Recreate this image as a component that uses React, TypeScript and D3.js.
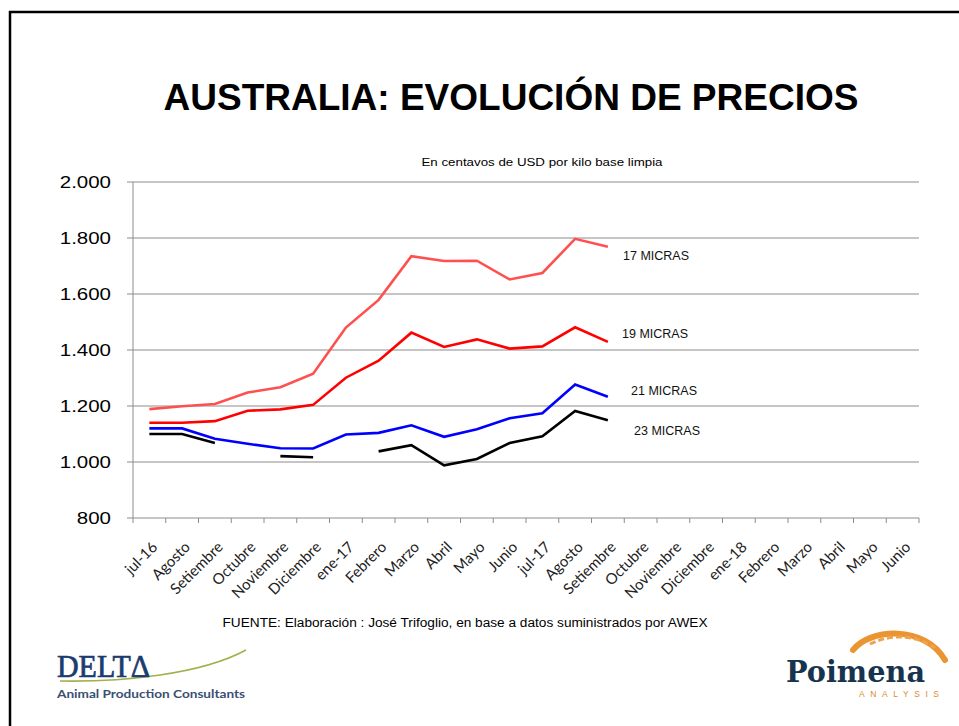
import React from "react";
import * as d3 from "d3";

// month labels, jul-16 .. Junio (2018)
const months = [
  "jul-16", "Agosto", "Setiembre", "Octubre", "Noviembre", "Diciembre",
  "ene-17", "Febrero", "Marzo", "Abril", "Mayo", "Junio",
  "jul-17", "Agosto", "Setiembre", "Octubre", "Noviembre", "Diciembre",
  "ene-18", "Febrero", "Marzo", "Abril", "Mayo", "Junio",
];

// prices, US cents / kg clean
const micras17 = [1189, 1199, 1207, 1248, 1267, 1315, 1480, 1579, 1735, 1718, 1719, 1652, 1675, 1797, 1769];
const micras19 = [1140, 1140, 1146, 1183, 1188, 1204, 1301, 1362, 1462, 1411, 1438, 1405, 1413, 1481, 1429];
const micras21 = [1120, 1120, 1083, 1065, 1049, 1048, 1098, 1104, 1131, 1090, 1117, 1156, 1174, 1277, 1233];
const micras23 = [1100, 1100, 1068, null, 1021, 1017, null, 1038, 1060, 988, 1011, 1068, 1092, 1182, 1149];

const yTicks = [800, 1000, 1200, 1400, 1600, 1800, 2000];

const seriesList = [
  { name: "17 MICRAS", values: micras17, color: "#ff5050", lx: 623, ly: 260 },
  { name: "19 MICRAS", values: micras19, color: "#ff0000", lx: 622, ly: 338 },
  { name: "21 MICRAS", values: micras21, color: "#0000ff", lx: 631, ly: 395 },
  { name: "23 MICRAS", values: micras23, color: "#000000", lx: 634, ly: 435 },
];

export default function App() {
  const width = 959;
  const height = 726;
  const left = 133;
  const right = 919;
  const top = 182;
  const bottom = 518;

  const x = d3.scaleBand<number>()
    .domain(months.map((_, i) => i))
    .range([left, right]);
  const y = d3.scaleLinear().domain([800, 2000]).range([bottom, top]);

  const line = d3.line<number | null>()
    .defined(d => d != null)
    .x((_, i) => x(i)! + x.bandwidth() / 2)
    .y(d => y(d as number));

  const fmt = (v: number) => d3.format(",")(v).replace(",", ".");

  return (
    <div style={{ position: "absolute", left: 0, top: 0 }}>
      <svg width={width} height={height} style={{ display: "block", background: "#fff" }}>
        <rect x={10} y={12} width={980} height={760} fill="none" stroke="#000" strokeWidth={2.5} />

        <text x={511} y={110} textAnchor="middle" fontFamily="Liberation Sans, Arial, sans-serif"
          fontWeight="bold" fontSize={37}>AUSTRALIA: EVOLUCIÓN DE PRECIOS</text>

        <text x={542} y={166} textAnchor="middle" fontFamily="Liberation Sans, Arial, sans-serif"
          fontSize={10} textLength={241} lengthAdjust="spacingAndGlyphs">En centavos de USD por kilo base limpia</text>

        {/* grid + y axis */}
        {yTicks.map(t => (
          <g key={t}>
            <line x1={left - 6} x2={right} y1={y(t)} y2={y(t)} stroke="#8c8c8c" strokeWidth={1} />
            <text transform={`translate(111,${y(t) + 6}) scale(1.28,1)`} textAnchor="end"
              fontFamily="Liberation Sans, Arial, sans-serif" fontSize={16}>{fmt(t)}</text>
          </g>
        ))}
        <line x1={left} x2={left} y1={top} y2={bottom} stroke="#8c8c8c" strokeWidth={1} />

        {/* x ticks + labels */}
        {months.map((m, i) => (
          <g key={i}>
            <line x1={x(i)} x2={x(i)} y1={bottom} y2={bottom + 5} stroke="#8c8c8c" />
            <text transform={`translate(${x(i)! + x.bandwidth() / 2 + 9},${bottom + 30}) rotate(-45)`}
              textAnchor="end" fontFamily="Lato, Open Sans, sans-serif" fontSize={15} fill="#222">{m}</text>
          </g>
        ))}
        <line x1={right} x2={right} y1={bottom} y2={bottom + 5} stroke="#8c8c8c" />

        {/* series */}
        {seriesList.map(s => (
          <g key={s.name}>
            <path d={line(s.values) ?? ""} fill="none" stroke={s.color} strokeWidth={2.6} strokeLinejoin="miter" />
            <text x={s.lx} y={s.ly} fontFamily="Liberation Sans, Arial, sans-serif" fontSize={12.5}
              fill="#111">{s.name}</text>
          </g>
        ))}

        <text x={465} y={627} textAnchor="middle" fontFamily="Liberation Sans, Arial, sans-serif"
          fontSize={12} textLength={485} lengthAdjust="spacingAndGlyphs">
          FUENTE: Elaboración : José Trifoglio, en base a datos suministrados por AWEX
        </text>

        {/* DELTA logo */}
        <path d="M60,681 C120,682 200,675 246,650" fill="none" stroke="#a4b04a" strokeWidth={1.6} />
        <text x={57} y={677} fontFamily="Liberation Serif, serif" fontSize={31} fill="#1a3c70"
          stroke="#1a3c70" strokeWidth={0.7} textLength={93} lengthAdjust="spacingAndGlyphs">DELTΔ</text>
        <text x={57} y={698} fontFamily="Lato, Open Sans, sans-serif" fontWeight="bold" fontSize={12}
          fill="#3a4f72" textLength={188} lengthAdjust="spacingAndGlyphs">Animal Production Consultants</text>

        {/* Poimena logo */}
        <path d="M853,650 C870,628 925,625 945,660" fill="none" stroke="#e8891c" strokeWidth={6}
          strokeLinecap="round" opacity={0.9} />
        <path d="M870,644 C890,634 915,634 935,648" fill="none" stroke="#f2a24a" strokeWidth={3}
          strokeDasharray="6 3" />
        <text x={786} y={682} fontFamily="DejaVu Serif, serif" fontWeight="bold" fontSize={30}
          fill="#17344f" textLength={139} lengthAdjust="spacingAndGlyphs">Poimena</text>
        <text x={859} y={697} fontFamily="Liberation Sans, sans-serif" fontSize={8.5} fill="#e08a2a"
          textLength={80} lengthAdjust="spacing">ANALYSIS</text>
      </svg>
    </div>
  );
}
